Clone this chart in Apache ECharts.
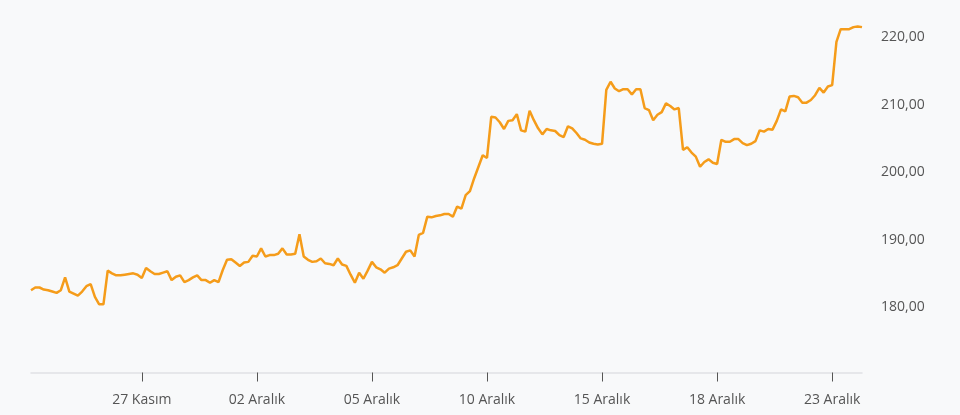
<!DOCTYPE html>
<html>
<head>
<meta charset="utf-8">
<script src="https://cdn.jsdelivr.net/npm/echarts@6/dist/echarts.min.js"></script>
<style>
html,body{margin:0;padding:0;background:#f8f9fa;}
#chart{width:960px;height:415px;}
</style>
</head>
<body>
<div id="chart"></div>
<script>
// Trading days (hourly points, 10:00-18:00)
const days = ["24 Kasım","25 Kasım","26 Kasım","27 Kasım","28 Kasım","01 Aralık","02 Aralık","03 Aralık","04 Aralık","05 Aralık","08 Aralık","09 Aralık","10 Aralık","11 Aralık","12 Aralık","15 Aralık","16 Aralık","17 Aralık","18 Aralık","19 Aralık","22 Aralık","23 Aralık"];
const hours = ["10:00","11:00","12:00","13:00","14:00","15:00","16:00","17:00","18:00"];
const tickLabels = ["27 Kasım","02 Aralık","05 Aralık","10 Aralık","15 Aralık","18 Aralık","23 Aralık"];
const yTickValues = [180,190,200,210,220];

const prices = [
182.5,182.9,182.9,182.6,182.5,182.3,182.1,182.5,184.4,182.3,
182.0,181.7,182.3,183.1,183.4,181.5,180.4,180.4,185.4,185.0,
184.7,184.7,184.8,184.9,185.0,184.8,184.3,185.8,185.3,184.9,
184.9,185.1,185.3,184.0,184.5,184.7,183.7,184.0,184.4,184.7,
184.0,184.0,183.6,184.0,183.7,185.5,187.0,187.1,186.6,186.1,
186.6,186.7,187.6,187.5,188.7,187.5,187.7,187.7,187.9,188.7,
187.8,187.8,187.9,190.8,187.5,187.0,186.7,186.8,187.2,186.5,
186.4,186.2,187.2,186.3,186.1,184.8,183.6,185.1,184.2,185.4,
186.7,185.9,185.6,185.1,185.7,185.9,186.2,187.2,188.2,188.4,
187.5,190.7,191.0,193.4,193.3,193.5,193.6,193.8,193.8,193.4,
194.9,194.6,196.6,197.2,199.1,200.8,202.5,202.1,208.2,208.1,
207.4,206.4,207.6,207.7,208.6,206.2,206.0,209.1,207.7,206.5,
205.6,206.4,206.2,206.1,205.5,205.2,206.8,206.5,205.8,205.0,
204.8,204.4,204.2,204.1,204.2,212.2,213.4,212.4,212.0,212.3,
212.3,211.5,212.3,212.3,209.5,209.2,207.7,208.5,208.9,210.2,
209.8,209.3,209.5,203.3,203.7,202.9,202.3,200.8,201.5,201.9,
201.4,201.2,204.8,204.5,204.5,204.9,204.9,204.3,204.0,204.2,
204.6,206.2,206.0,206.4,206.3,207.6,209.3,209.0,211.2,211.3,
211.1,210.3,210.3,210.7,211.4,212.5,211.8,212.7,212.9,219.3,
221.2,221.2,221.2,221.5,221.6,221.5
];

// categories: first day starts 11:00, last day ends 17:00
const categories = [];
days.forEach((d, di) => {
  hours.forEach((h, hi) => {
    if (di === 0 && hi === 0) return;
    if (di === days.length - 1 && hi === hours.length - 1) return;
    categories.push(d + " " + h);
  });
});

const isTick = (idx, val) => {
  const v = categories[idx];
  const parts = v.split(" ");
  const day = parts[0] + " " + parts[1];
  return parts[2] === "10:00" && tickLabels.indexOf(day) >= 0;
};

const chart = echarts.init(document.getElementById('chart'), null, {renderer: 'canvas'});
chart.setOption({
  animation: false,
  backgroundColor: '#f8f9fa',
  grid: {left: 31, right: 98, top: 3.5, bottom: 42.5, containLabel: false},
  xAxis: {
    type: 'category',
    data: categories,
    boundaryGap: false,
    axisLine: {show: true, lineStyle: {color: '#dfe1e5', width: 1.5}},
    axisTick: {show: true, interval: isTick, length: 9, lineStyle: {color: '#555', width: 1}},
    axisLabel: {
      interval: isTick,
      margin: 21,
      color: '#555',
      fontFamily: 'Open Sans',
      fontSize: 14,
      formatter: v => v.split(" ").slice(0, 2).join(" ")
    },
    splitLine: {show: false}
  },
  yAxis: {
    type: 'value',
    position: 'right',
    min: 170.3,
    max: 225,
    axisLine: {show: false},
    axisTick: {show: false},
    splitLine: {show: false},
    axisLabel: {
      customValues: yTickValues,
      margin: 19,
      color: '#555',
      fontFamily: 'Open Sans',
      fontSize: 14,
      formatter: v => v.toFixed(2).replace('.', ',')
    }
  },
  series: [{
    type: 'line',
    data: prices,
    showSymbol: false,
    symbol: 'none',
    lineStyle: {color: '#f59c1a', width: 2.5},
    itemStyle: {color: '#f59c1a'}
  }]
});
</script>
</body>
</html>
